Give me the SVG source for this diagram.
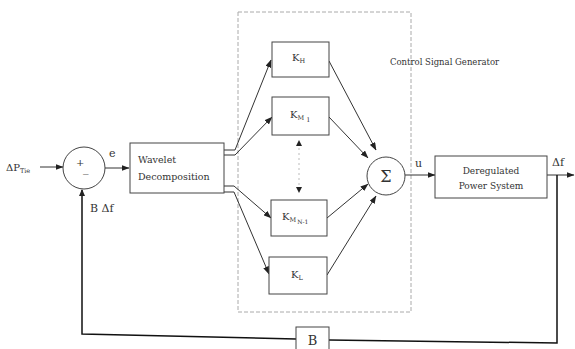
<svg xmlns="http://www.w3.org/2000/svg" width="575" height="349" viewBox="0 0 575 349">
<defs>
<marker id="ah" markerWidth="8" markerHeight="6" refX="7.5" refY="3" orient="auto" markerUnits="userSpaceOnUse">
<path d="M0,0 L8,3 L0,6 Z" fill="#222"/>
</marker>
</defs>
<style>
.t{font-family:"DejaVu Serif","Liberation Serif",serif;fill:#333}
.box{fill:#fff;stroke:#444;stroke-width:1}
.ln{fill:none;stroke:#333;stroke-width:1}
.fb{fill:none;stroke:#111;stroke-width:1.5}
.dash{fill:none;stroke:#aaa;stroke-width:1;stroke-dasharray:4 2}
</style>
<rect width="575" height="349" fill="#fff"/>
<g id="csg">
<rect class="dash" x="238" y="12" width="173" height="300"/>
<text class="t" x="390" y="65" font-size="8.5">Control Signal Generator</text>
</g>
<g id="connectors">
<line class="ln" x1="40" y1="167" x2="63" y2="167" marker-end="url(#ah)"/>
<line class="ln" x1="105" y1="168" x2="129" y2="168" marker-end="url(#ah)"/>
<polyline class="ln" points="224,150 235,150 271,60" marker-end="url(#ah)"/>
<polyline class="ln" points="224,155 235,155 272,117" marker-end="url(#ah)"/>
<polyline class="ln" points="224,186 234,186 271,218" marker-end="url(#ah)"/>
<polyline class="ln" points="224,192 234,192 269,274" marker-end="url(#ah)"/>
<line x1="299" y1="148" x2="299" y2="186" stroke="#bbb" stroke-width="1" stroke-dasharray="2 3"/>
<path d="M299,140 L296,146 L302,146 Z" fill="#222"/>
<path d="M299,193 L296,187 L302,187 Z" fill="#222"/>
<line class="ln" x1="329" y1="61" x2="376" y2="150" marker-end="url(#ah)"/>
<line class="ln" x1="329" y1="117" x2="368" y2="158" marker-end="url(#ah)"/>
<line class="ln" x1="327" y1="218" x2="368" y2="184" marker-end="url(#ah)"/>
<line class="ln" x1="327" y1="275" x2="376" y2="196" marker-end="url(#ah)"/>
<line class="ln" x1="405" y1="175" x2="435" y2="175" marker-end="url(#ah)"/>
<line class="ln" x1="547" y1="175" x2="574" y2="175" marker-end="url(#ah)"/>
<polyline class="fb" points="557,175 557,343 329,340"/>
<polyline class="fb" points="296,339 82,334 82,190"/>
<path d="M82,189 L79,196 L85,196 Z" fill="#222"/>
</g>
<g id="ptie">
<text class="t" x="6" y="171" font-size="10">ΔP<tspan font-size="6.5" dy="2">Tie</tspan></text>
</g>
<g id="sum">
<circle cx="84" cy="168" r="21" fill="#fff" stroke="#444" stroke-width="1"/>
<text class="t" x="76" y="166" font-size="10">+</text>
<text class="t" x="83" y="172" font-size="11">_</text>
<text class="t" x="109" y="157" font-size="11">e</text>
<text class="t" x="90" y="212" font-size="11">B Δf</text>
</g>
<g id="wavelet">
<rect class="box" x="130" y="143" width="94" height="50"/>
<text class="t" x="138" y="163" font-size="9.5">Wavelet</text>
<text class="t" x="138" y="180" font-size="9.5">Decomposition</text>
</g>
<g id="kh">
<rect class="box" x="272" y="42" width="57" height="35"/>
<text class="t" x="292" y="61" font-size="10">K<tspan font-size="6.5" dy="2">H</tspan></text>
</g>
<g id="km1">
<rect class="box" x="272" y="97" width="57" height="38"/>
<text class="t" x="290" y="118" font-size="10">K<tspan font-size="6.5" dy="2">M</tspan><tspan font-size="6.5" dx="2" dy="2">1</tspan></text>
</g>
<g id="kmn">
<rect class="box" x="271" y="200" width="56" height="36"/>
<text class="t" x="282" y="220" font-size="10">K<tspan font-size="6.5" dy="2">M</tspan><tspan font-size="6" dx="1" dy="2">N-1</tspan></text>
</g>
<g id="kl">
<rect class="box" x="269" y="257" width="58" height="37"/>
<text class="t" x="291" y="278" font-size="10">K<tspan font-size="6.5" dy="2">L</tspan></text>
</g>
<g id="sigma">
<circle cx="386" cy="176" r="19" fill="#fff" stroke="#444" stroke-width="1"/>
<text class="t" x="386" y="182" font-size="16" text-anchor="middle">Σ</text>
<text class="t" x="415" y="167" font-size="11">u</text>
</g>
<g id="plant">
<rect class="box" x="435" y="156" width="112" height="42"/>
<text class="t" x="491" y="174" font-size="9" text-anchor="middle">Deregulated</text>
<text class="t" x="491" y="189" font-size="9" text-anchor="middle">Power System</text>
<text class="t" x="552" y="166" font-size="11">Δf</text>
</g>
<g id="bblock">
<rect class="box" x="296" y="327" width="33" height="26"/>
<text class="t" x="312.5" y="345" font-size="13" text-anchor="middle">B</text>
</g>
</svg>
